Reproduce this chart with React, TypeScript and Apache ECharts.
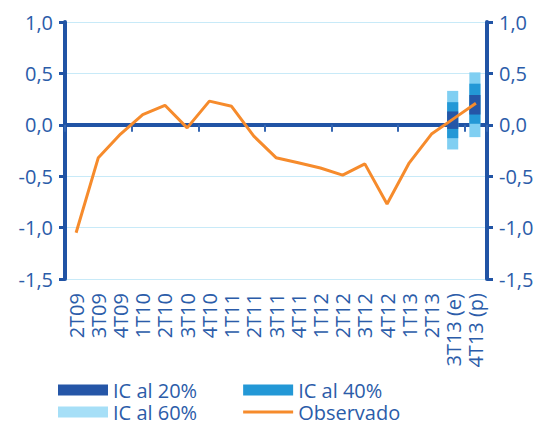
import React, { useEffect, useRef } from "react";
import * as echarts from "echarts";

const categories = [
  "2T09", "3T09", "4T09", "1T10", "2T10", "3T10", "4T10", "1T11", "2T11", "3T11",
  "4T11", "1T12", "2T12", "3T12", "4T12", "1T13", "2T13", "3T13 (e)", "4T13 (p)",
];
const observado = [
  -1.05, -0.32, -0.09, 0.1, 0.19, -0.03, 0.23, 0.18, -0.11, -0.32,
  -0.37, -0.42, -0.49, -0.38, -0.77, -0.37, -0.09, 0.06, 0.21,
];
// fan chart bands: [category index, low, high]
const ic60 = [
  [17, -0.24, 0.33],
  [18, -0.12, 0.51],
];
const ic40 = [
  [17, -0.13, 0.22],
  [18, 0.01, 0.4],
];
const ic20 = [
  [17, -0.04, 0.13],
  [18, 0.1, 0.29],
];

const AXIS = "#2154a5";
const TEXT = "#2b5ca9";
const DARK = "#2556a7";
const MID = "#2398d6";
const LIGHT = "#80cff2";
const LIGHT_LEG = "#a6dff7";
const ORANGE = "#f68b2c";
const FONT = "Open Sans";

const fmt = (v: number) => v.toFixed(1).replace(".", ",");

function bandSeries(name: string, data: number[][], color: string) {
  return {
    name,
    type: "custom",
    xAxisIndex: 0,
    yAxisIndex: 0,
    encode: { x: 0, y: [1, 2] },
    itemStyle: { color },
    data,
    z: 3,
    renderItem: (params: any, api: any) => {
      const x = api.value(0);
      const lo = api.coord([x, api.value(1)]);
      const hi = api.coord([x, api.value(2)]);
      const w = api.size([1, 0])[0] * 0.5;
      return {
        type: "rect",
        shape: { x: lo[0] - w / 2 - 1, y: hi[1], width: w, height: lo[1] - hi[1] },
        style: { fill: color },
      };
    },
  };
}

export default function App() {
  const ref = useRef<HTMLDivElement>(null);
  useEffect(() => {
    if (!ref.current) return;
    const chart = echarts.init(ref.current, null, { renderer: "svg" });
    const yBase = {
      type: "value",
      min: -1.5,
      max: 1.0,
      interval: 0.5,
      axisLine: { show: true, lineStyle: { color: AXIS, width: 4 } },
      axisTick: { show: true, length: 6, lineStyle: { color: AXIS, width: 3 } },
      axisLabel: {
        color: TEXT,
        fontSize: 20,
        fontFamily: FONT,
        margin: 12,
        formatter: fmt,
      },
    };
    const legendBase = {
      left: 58,
      padding: 0,
      itemWidth: 50,
      itemHeight: 11,
      itemGap: 46,
      textStyle: { color: TEXT, fontSize: 20, fontFamily: FONT, lineHeight: 20 },
    };
    chart.setOption({
      animation: false,
      textStyle: { fontFamily: FONT },
      grid: { left: 65, right: 55, top: 22, bottom: 144, outerBoundsMode: "none" },
      legend: [
        {
          ...legendBase,
          top: 380,
          data: [
            { name: "IC al 20%", icon: "rect", itemStyle: { color: DARK } },
            { name: "IC al 40%", icon: "rect", itemStyle: { color: MID } },
          ],
        },
        {
          ...legendBase,
          top: 402,
          data: [
            { name: "IC al 60%", icon: "rect", itemStyle: { color: LIGHT_LEG } },
            {
              name: "Observado",
              icon: "path://M0,0 L50,0 L50,3 L0,3 Z",
              itemStyle: { color: ORANGE },
            },
          ],
        },
      ],
      xAxis: [
        {
          type: "category",
          data: categories,
          position: "bottom",
          axisLine: { show: false, onZero: false },
          axisTick: { show: false },
          axisLabel: {
            rotate: 90,
            color: TEXT,
            fontSize: 20,
            fontFamily: FONT,
            margin: 14,
            interval: 0,
          },
          splitLine: { show: false },
        },
        {
          type: "category",
          data: categories,
          position: "top",
          axisLine: { show: true, onZero: true, lineStyle: { color: AXIS, width: 4 } },
          axisTick: { show: true, inside: true, length: 7, lineStyle: { color: "#3566b2", width: 2 } },
          axisLabel: { show: false },
          splitLine: { show: false },
        },
      ],
      yAxis: [
        {
          ...yBase,
          position: "left",
          splitLine: { show: true, lineStyle: { color: "#c8eaf8", width: 1 } },
        },
        {
          ...yBase,
          position: "right",
          splitLine: { show: false },
        },
      ],
      series: [
        bandSeries("IC al 60%", ic60, LIGHT),
        bandSeries("IC al 40%", ic40, MID),
        bandSeries("IC al 20%", ic20, DARK),
        {
          name: "Observado",
          type: "line",
          xAxisIndex: 0,
          yAxisIndex: 0,
          data: observado,
          symbol: "none",
          showSymbol: false,
          itemStyle: { color: ORANGE },
          lineStyle: { color: ORANGE, width: 3 },
          z: 4,
        },
      ],
    });
    return () => chart.dispose();
  }, []);
  return <div ref={ref} style={{ width: 542, height: 423, marginLeft: -8, marginTop: -8 }} />;
}
